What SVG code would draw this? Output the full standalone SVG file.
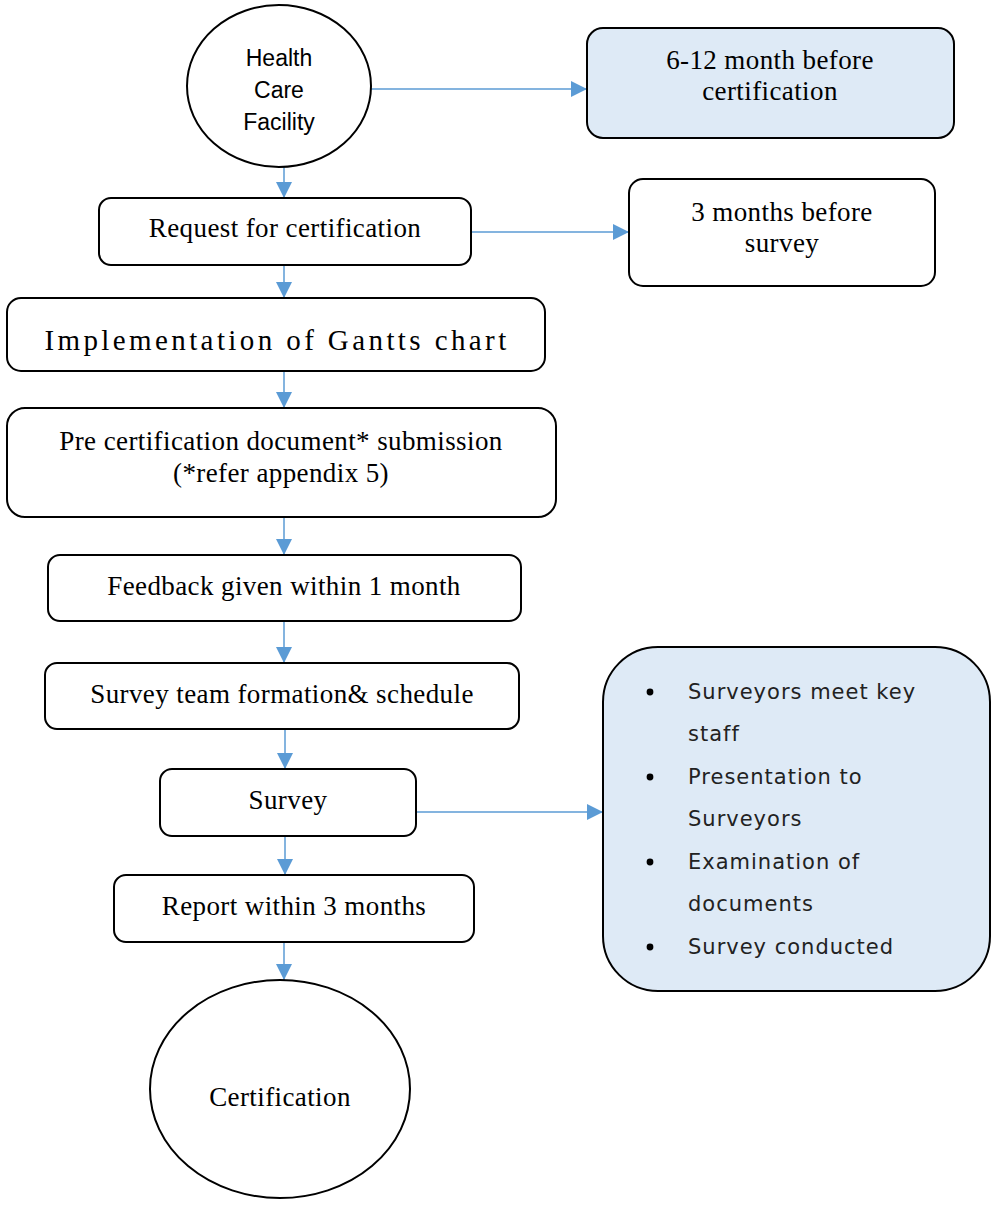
<svg xmlns="http://www.w3.org/2000/svg" width="1000" height="1207" viewBox="0 0 1000 1207">
<style>
.n{fill:#fff;stroke:#000;stroke-width:2}
.b{fill:#deeaf6;stroke:#000;stroke-width:2}
.c{fill:none;stroke:#5b9bd5;stroke-width:1.5}
.s{font-family:"Liberation Serif",serif;font-size:27px;letter-spacing:0.4px;fill:#000;text-anchor:middle}
.a{font-family:"Liberation Sans",sans-serif;font-size:23px;fill:#000;text-anchor:middle}
.v{font-family:"DejaVu Sans",sans-serif;font-size:21px;fill:#222;letter-spacing:1px}
</style>
<defs>
<marker id="ahs" markerWidth="16" markerHeight="16" refX="16" refY="8" orient="auto" markerUnits="userSpaceOnUse" viewBox="0 0 16 16">
<path d="M0,0 L16,8 L0,16 z" fill="#5b9bd5"/>
</marker>
</defs>
<g id="connectors">
<path class="c" d="M371,89 H587" marker-end="url(#ahs)"/>
<path class="c" d="M284,167 V198" marker-end="url(#ahs)"/>
<path class="c" d="M471,232 H629" marker-end="url(#ahs)"/>
<path class="c" d="M284,265 V298" marker-end="url(#ahs)"/>
<path class="c" d="M284,371 V408" marker-end="url(#ahs)"/>
<path class="c" d="M284,517 V555" marker-end="url(#ahs)"/>
<path class="c" d="M284,621 V663" marker-end="url(#ahs)"/>
<path class="c" d="M285,729 V769" marker-end="url(#ahs)"/>
<path class="c" d="M416,812 H603" marker-end="url(#ahs)"/>
<path class="c" d="M285,836 V875" marker-end="url(#ahs)"/>
<path class="c" d="M284,942 V980" marker-end="url(#ahs)"/>
</g>
<g id="health-care-facility">
<ellipse class="n" cx="279" cy="86" rx="92" ry="81"/>
<text class="a" x="279" y="66">Health</text>
<text class="a" x="279" y="98">Care</text>
<text class="a" x="279" y="130">Facility</text>
</g>
<g id="months-6-12">
<rect class="b" x="587" y="28" width="367" height="110" rx="16"/>
<text class="s" x="770" y="69">6-12 month before</text>
<text class="s" x="770" y="100">certification</text>
</g>
<g id="request">
<rect class="n" x="99" y="198" width="372" height="67" rx="12"/>
<text class="s" x="285" y="237">Request for certification</text>
</g>
<g id="months-3">
<rect class="n" x="629" y="179" width="306" height="107" rx="14"/>
<text class="s" x="782" y="221">3 months before</text>
<text class="s" x="782" y="252">survey</text>
</g>
<g id="gantt">
<rect class="n" x="7" y="298" width="538" height="73" rx="14"/>
<text class="s" x="277" y="350" style="font-size:29px;letter-spacing:3.4px">Implementation of Gantts chart</text>
</g>
<g id="precert">
<rect class="n" x="7" y="408" width="549" height="109" rx="18"/>
<text class="s" x="281" y="450">Pre certification document* submission</text>
<text class="s" x="281" y="482">(*refer appendix 5)</text>
</g>
<g id="feedback">
<rect class="n" x="48" y="555" width="473" height="66" rx="12"/>
<text class="s" x="284" y="595">Feedback given within 1 month</text>
</g>
<g id="survey-team">
<rect class="n" x="45" y="663" width="474" height="66" rx="12"/>
<text class="s" x="282" y="703">Survey team formation&amp; schedule</text>
</g>
<g id="survey">
<rect class="n" x="160" y="769" width="256" height="67" rx="12"/>
<text class="s" x="288" y="809">Survey</text>
</g>
<g id="survey-details">
<rect class="b" x="603" y="647" width="387" height="344" rx="55"/>
<circle cx="650" cy="692" r="3.4" fill="#000"/>
<circle cx="650" cy="777" r="3.4" fill="#000"/>
<circle cx="650" cy="862" r="3.4" fill="#000"/>
<circle cx="650" cy="947" r="3.4" fill="#000"/>
<text class="v" x="688" y="699">Surveyors meet key</text>
<text class="v" x="688" y="741">staff</text>
<text class="v" x="688" y="784">Presentation to</text>
<text class="v" x="688" y="826">Surveyors</text>
<text class="v" x="688" y="869">Examination of</text>
<text class="v" x="688" y="911">documents</text>
<text class="v" x="688" y="954">Survey conducted</text>
</g>
<g id="report">
<rect class="n" x="114" y="875" width="360" height="67" rx="12"/>
<text class="s" x="294" y="915">Report within 3 months</text>
</g>
<g id="certification">
<ellipse class="n" cx="280" cy="1089" rx="130" ry="109"/>
<text class="s" x="280" y="1106">Certification</text>
</g>
</svg>
